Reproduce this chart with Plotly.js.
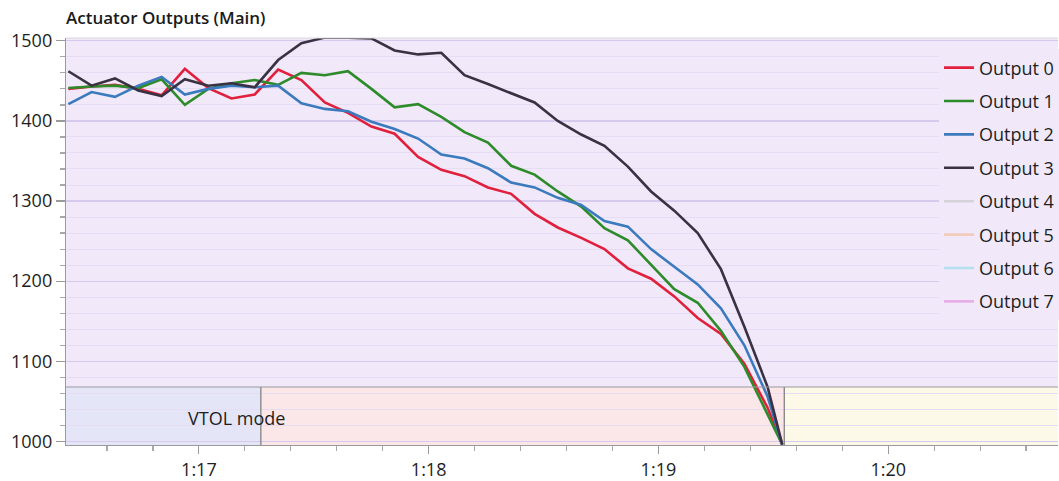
<!DOCTYPE html>
<html>
<head>
<meta charset="utf-8">
<script src="https://cdn.plot.ly/plotly-3.0.1.min.js"></script>
<style>
  html, body { margin: 0; padding: 0; background: #ffffff; }
  #chart { width: 1059px; height: 481px; }
</style>
</head>
<body>
<div id="chart"></div>
<script>
// ---- data ----
const time = [76.432, 76.533, 76.635, 76.736, 76.838, 76.939, 77.041, 77.142, 77.243, 77.345,
              77.446, 77.548, 77.649, 77.751, 77.852, 77.954, 78.055, 78.156, 78.258, 78.359,
              78.461, 78.562, 78.664, 78.765, 78.867, 78.968, 79.069, 79.171, 79.272, 79.374,
              79.475, 79.539];

const output0 = [1440, 1443, 1445, 1440, 1432, 1465, 1441, 1428, 1433, 1464,
                 1451, 1423, 1410, 1393, 1384, 1355, 1339, 1331, 1317, 1309,
                 1284, 1267, 1254, 1240, 1216, 1203, 1181, 1154, 1134, 1097,
                 1042, 996];
const output1 = [1441, 1443, 1444, 1441, 1452, 1420, 1440, 1447, 1451, 1445,
                 1460, 1457, 1462, 1440, 1417, 1421, 1405, 1386, 1373, 1344,
                 1333, 1312, 1293, 1266, 1251, 1220, 1190, 1173, 1138, 1093,
                 1033, 996];
const output2 = [1421, 1436, 1430, 1444, 1455, 1433, 1440, 1444, 1442, 1444,
                 1422, 1415, 1412, 1399, 1390, 1378, 1358, 1353, 1341, 1323,
                 1317, 1304, 1295, 1275, 1268, 1240, 1218, 1196, 1166, 1120,
                 1056, 996];
const output3 = [1462, 1444, 1453, 1438, 1431, 1452, 1444, 1447, 1442, 1476,
                 1497, 1504, 1504, 1503, 1488, 1483, 1485, 1457, 1446, 1435,
                 1423, 1400, 1383, 1369, 1343, 1312, 1288, 1260, 1215, 1143,
                 1068, 996];
// outputs 4-7 have no visible values in the plotted range
const output4 = [null];
const output5 = [null];
const output6 = [null];
const output7 = [null];

const seriesNames = ['Output 0', 'Output 1', 'Output 2', 'Output 3',
                     'Output 4', 'Output 5', 'Output 6', 'Output 7'];
const seriesColors = ['#e0203c', '#2e8b2a', '#3a7abd', '#3a3242',
                      '#d6d2da', '#f2cbbb', '#b4e0f0', '#e8aee8'];

const xTickVals = [77, 78, 79, 80];
const xTickText = ['1:17', '1:18', '1:19', '1:20'];

// flight mode segments: start/end times
const modeTimes = [76.40, 77.2696, 79.5478, 80.80];
const modeColors = ['#e4e6f8', '#fbe6e8', '#fdf9e8'];
const modeLabel = 'VTOL mode';
const modeLabelTime = 77.163;

// ---- build traces ----
const seriesData = [output0, output1, output2, output3, output4, output5, output6, output7];
const traces = seriesNames.map((name, i) => ({
  type: 'scatter',
  mode: 'lines',
  name: name,
  x: seriesData[i].length > 1 ? time : [null],
  y: seriesData[i],
  legendgroup: 'g' + i,
  line: { color: seriesColors[i], width: 2.6 },
  hoverinfo: 'skip'
}));

const font = "'Open Sans', 'Noto Sans', 'DejaVu Sans', sans-serif";

const bandTop = 0.1425;
const shapes = [];
for (let i = 0; i < modeColors.length; i++) {
  shapes.push({
    type: 'rect', layer: 'below', xref: 'x', yref: 'paper',
    x0: modeTimes[i], x1: modeTimes[i + 1], y0: 0, y1: bandTop,
    fillcolor: modeColors[i], line: { width: 0 }
  });
}
shapes.push({
  type: 'line', layer: 'above', xref: 'paper', yref: 'paper',
  x0: 0, x1: 1, y0: bandTop, y1: bandTop,
  line: { color: '#9a9a9a', width: 1.2 }
});
for (let i = 1; i < modeTimes.length - 1; i++) {
  shapes.push({
    type: 'line', layer: 'above', xref: 'x', yref: 'paper',
    x0: modeTimes[i], x1: modeTimes[i], y0: 0, y1: bandTop,
    line: { color: '#8a8a8a', width: 1.4 }
  });
}
shapes.push({
  type: 'line', layer: 'above', xref: 'paper', yref: 'paper',
  x0: 0, x1: 1, y0: 1, y1: 1,
  line: { color: '#d8d8d8', width: 1 }
});

const layout = {
  width: 1059,
  height: 481,
  margin: { l: 66, r: 0, t: 38, b: 36, pad: 0 },
  paper_bgcolor: '#ffffff',
  plot_bgcolor: '#f1e9fa',
  font: { family: font, size: 18, color: '#1e1e1e' },
  title: {
    text: 'Actuator Outputs (Main)',
    font: { family: font, size: 17, weight: 600, color: '#1a1a1a' },
    xref: 'container', yref: 'container',
    x: 66 / 1059, xanchor: 'left',
    y: 1 - 18 / 481, yanchor: 'middle'
  },
  showlegend: true,
  legend: {
    x: 0.8801, xanchor: 'left',
    y: 0.972, yanchor: 'top',
    bgcolor: '#f1e9fa',
    borderwidth: 0,
    font: { family: font, size: 18, color: '#1e1e1e' },
    tracegroupgap: 7,
    itemwidth: 30
  },
  xaxis: {
    range: [76.4217, 80.739],
    tickmode: 'array',
    tickvals: xTickVals,
    ticktext: xTickText,
    ticks: 'outside', ticklen: 8, tickwidth: 1.2, tickcolor: '#9a9a9a',
    showgrid: false, zeroline: false,
    showline: true, linecolor: '#9a9a9a', linewidth: 1.2,
    tickfont: { family: font, size: 18, color: '#1e1e1e' },
    minor: { tickmode: 'linear', tick0: 77, dtick: 0.2, ticks: 'outside',
             ticklen: 5, tickwidth: 1.2, tickcolor: '#a8a8a8', showgrid: false }
  },
  yaxis: {
    range: [995.5, 1503.5],
    tickmode: 'linear', tick0: 1000, dtick: 100,
    ticks: 'outside', ticklen: 9, tickwidth: 1.2, tickcolor: '#9a9a9a',
    showgrid: true, gridcolor: '#d5c9ee', gridwidth: 1.2,
    zeroline: false,
    showline: true, linecolor: '#9a9a9a', linewidth: 1.2,
    tickfont: { family: font, size: 18, color: '#1e1e1e' },
    minor: { tickmode: 'linear', tick0: 1000, dtick: 20, ticks: 'outside',
             ticklen: 5, tickwidth: 1.2, tickcolor: '#a8a8a8',
             showgrid: true, gridcolor: '#e6ddf4', gridwidth: 1 }
  },
  shapes: shapes,
  annotations: [{
    text: modeLabel, xref: 'x', yref: 'paper',
    x: modeLabelTime, y: 0.066, xanchor: 'center', yanchor: 'middle',
    showarrow: false,
    font: { family: font, size: 18, color: '#1e1e1e' }
  }]
};

Plotly.newPlot('chart', traces, layout, { displayModeBar: false, staticPlot: true });
</script>
</body>
</html>
